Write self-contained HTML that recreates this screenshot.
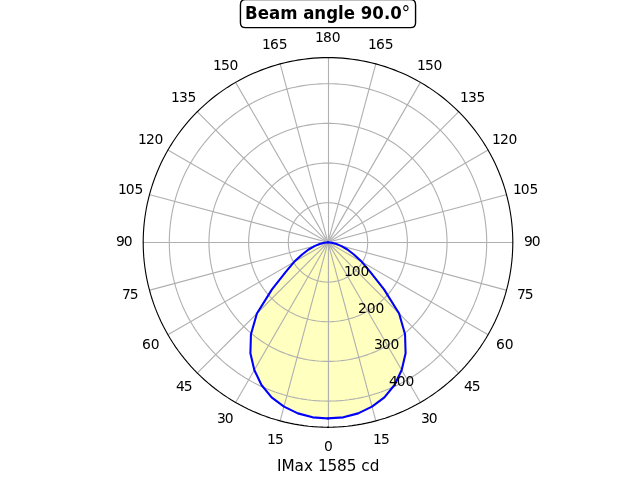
<!DOCTYPE html>
<html lang="en"><head><meta charset="utf-8"><title>Beam angle 90.0°</title>
<style>html,body{margin:0;padding:0;background:#fff;overflow:hidden}svg{display:block}text{font-family:'DejaVu Sans','Liberation Sans',sans-serif;fill:#000}.t{font-size:13.889px;text-anchor:middle}.r{font-size:13.889px;text-anchor:start}</style></head><body>
<svg width="640" height="480" viewBox="0 0 640 480">
<rect width="640" height="480" fill="#fff"/>
<path d="M328.00 418.40 L343.30 417.34 L358.15 413.38 L372.01 406.65 L384.40 397.35 L394.50 385.01 L401.70 370.05 L405.60 353.23 L405.04 334.22 L399.09 313.49 L384.01 289.40 L370.41 272.10 L362.05 262.06 L353.89 254.47 L347.42 249.47 L341.03 245.89 L335.81 243.78 L331.56 242.71 L328.00 242.40 Z" fill="#ffff00" fill-opacity="0.25" stroke="#ffff00" stroke-opacity="0.25" stroke-width="1.389" stroke-linejoin="miter"/>
<path d="M328.00 418.40 L312.70 417.34 L297.85 413.38 L283.99 406.65 L271.60 397.35 L261.50 385.01 L254.30 370.05 L250.40 353.23 L250.96 334.22 L256.91 313.49 L271.99 289.40 L285.59 272.10 L293.95 262.06 L302.11 254.47 L308.58 249.47 L314.97 245.89 L320.19 243.78 L324.44 242.71 L328.00 242.40 Z" fill="#ffff00" fill-opacity="0.25" stroke="#ffff00" stroke-opacity="0.25" stroke-width="1.389" stroke-linejoin="miter"/>
<g stroke="#b0b0b0" stroke-width="1.111" fill="none" stroke-linecap="square">
<line x1="328.50" y1="242.40" x2="328.50" y2="427.20"/>
<line x1="328.00" y1="242.40" x2="375.83" y2="420.90"/>
<line x1="328.00" y1="242.40" x2="420.40" y2="402.44"/>
<line x1="328.00" y1="242.40" x2="458.67" y2="373.07"/>
<line x1="328.00" y1="242.40" x2="488.04" y2="334.80"/>
<line x1="328.00" y1="242.40" x2="506.50" y2="290.23"/>
<line x1="328.00" y1="242.50" x2="512.80" y2="242.50"/>
<line x1="328.00" y1="242.40" x2="506.50" y2="194.57"/>
<line x1="328.00" y1="242.40" x2="488.04" y2="150.00"/>
<line x1="328.00" y1="242.40" x2="458.67" y2="111.73"/>
<line x1="328.00" y1="242.40" x2="420.40" y2="82.36"/>
<line x1="328.00" y1="242.40" x2="375.83" y2="63.90"/>
<line x1="328.50" y1="242.40" x2="328.50" y2="57.60"/>
<line x1="328.00" y1="242.40" x2="280.17" y2="63.90"/>
<line x1="328.00" y1="242.40" x2="235.60" y2="82.36"/>
<line x1="328.00" y1="242.40" x2="197.33" y2="111.73"/>
<line x1="328.00" y1="242.40" x2="167.96" y2="150.00"/>
<line x1="328.00" y1="242.40" x2="149.50" y2="194.57"/>
<line x1="328.00" y1="242.50" x2="143.20" y2="242.50"/>
<line x1="328.00" y1="242.40" x2="149.50" y2="290.23"/>
<line x1="328.00" y1="242.40" x2="167.96" y2="334.80"/>
<line x1="328.00" y1="242.40" x2="197.33" y2="373.07"/>
<line x1="328.00" y1="242.40" x2="235.60" y2="402.44"/>
<line x1="328.00" y1="242.40" x2="280.17" y2="420.90"/>
<path d="M328.00 282.08 L329.04 282.06 L330.08 282.02 L331.11 281.95 L332.15 281.86 L333.18 281.74 L334.21 281.59 L335.23 281.41 L336.25 281.21 L337.26 280.98 L338.27 280.72 L339.27 280.44 L340.26 280.13 L341.24 279.80 L342.22 279.44 L343.18 279.06 L344.14 278.65 L345.08 278.21 L346.01 277.75 L346.93 277.27 L347.84 276.76 L348.73 276.23 L349.61 275.67 L350.47 275.10 L351.32 274.50 L352.15 273.88 L352.97 273.23 L353.77 272.57 L354.55 271.88 L355.31 271.18 L356.05 270.45 L356.78 269.71 L357.48 268.95 L358.17 268.17 L358.83 267.37 L359.48 266.55 L360.10 265.72 L360.70 264.87 L361.27 264.01 L361.83 263.13 L362.36 262.24 L362.87 261.33 L363.35 260.41 L363.81 259.48 L364.25 258.54 L364.66 257.58 L365.04 256.62 L365.40 255.64 L365.73 254.66 L366.04 253.67 L366.32 252.67 L366.58 251.66 L366.81 250.65 L367.01 249.63 L367.19 248.61 L367.34 247.58 L367.46 246.55 L367.55 245.51 L367.62 244.48 L367.66 243.44 L367.68 242.40 L367.66 241.36 L367.62 240.32 L367.55 239.29 L367.46 238.25 L367.34 237.22 L367.19 236.19 L367.01 235.17 L366.81 234.15 L366.58 233.14 L366.32 232.13 L366.04 231.13 L365.73 230.14 L365.40 229.16 L365.04 228.18 L364.66 227.22 L364.25 226.26 L363.81 225.32 L363.35 224.39 L362.87 223.47 L362.36 222.56 L361.83 221.67 L361.27 220.79 L360.70 219.93 L360.10 219.08 L359.48 218.25 L358.83 217.43 L358.17 216.63 L357.48 215.85 L356.78 215.09 L356.05 214.35 L355.31 213.62 L354.55 212.92 L353.77 212.23 L352.97 211.57 L352.15 210.92 L351.32 210.30 L350.47 209.70 L349.61 209.13 L348.73 208.57 L347.84 208.04 L346.93 207.53 L346.01 207.05 L345.08 206.59 L344.14 206.15 L343.18 205.74 L342.22 205.36 L341.24 205.00 L340.26 204.67 L339.27 204.36 L338.27 204.08 L337.26 203.82 L336.25 203.59 L335.23 203.39 L334.21 203.21 L333.18 203.06 L332.15 202.94 L331.11 202.85 L330.08 202.78 L329.04 202.74 L328.00 202.72 L326.96 202.74 L325.92 202.78 L324.89 202.85 L323.85 202.94 L322.82 203.06 L321.79 203.21 L320.77 203.39 L319.75 203.59 L318.74 203.82 L317.73 204.08 L316.73 204.36 L315.74 204.67 L314.76 205.00 L313.78 205.36 L312.82 205.74 L311.86 206.15 L310.92 206.59 L309.99 207.05 L309.07 207.53 L308.16 208.04 L307.27 208.57 L306.39 209.13 L305.53 209.70 L304.68 210.30 L303.85 210.92 L303.03 211.57 L302.23 212.23 L301.45 212.92 L300.69 213.62 L299.95 214.35 L299.22 215.09 L298.52 215.85 L297.83 216.63 L297.17 217.43 L296.52 218.25 L295.90 219.08 L295.30 219.93 L294.73 220.79 L294.17 221.67 L293.64 222.56 L293.13 223.47 L292.65 224.39 L292.19 225.32 L291.75 226.26 L291.34 227.22 L290.96 228.18 L290.60 229.16 L290.27 230.14 L289.96 231.13 L289.68 232.13 L289.42 233.14 L289.19 234.15 L288.99 235.17 L288.81 236.19 L288.66 237.22 L288.54 238.25 L288.45 239.29 L288.38 240.32 L288.34 241.36 L288.32 242.40 L288.34 243.44 L288.38 244.48 L288.45 245.51 L288.54 246.55 L288.66 247.58 L288.81 248.61 L288.99 249.63 L289.19 250.65 L289.42 251.66 L289.68 252.67 L289.96 253.67 L290.27 254.66 L290.60 255.64 L290.96 256.62 L291.34 257.58 L291.75 258.54 L292.19 259.48 L292.65 260.41 L293.13 261.33 L293.64 262.24 L294.17 263.13 L294.73 264.01 L295.30 264.87 L295.90 265.72 L296.52 266.55 L297.17 267.37 L297.83 268.17 L298.52 268.95 L299.22 269.71 L299.95 270.45 L300.69 271.18 L301.45 271.88 L302.23 272.57 L303.03 273.23 L303.85 273.88 L304.68 274.50 L305.53 275.10 L306.39 275.67 L307.27 276.23 L308.16 276.76 L309.07 277.27 L309.99 277.75 L310.92 278.21 L311.86 278.65 L312.82 279.06 L313.78 279.44 L314.76 279.80 L315.74 280.13 L316.73 280.44 L317.73 280.72 L318.74 280.98 L319.75 281.21 L320.77 281.41 L321.79 281.59 L322.82 281.74 L323.85 281.86 L324.89 281.95 L325.92 282.02 L326.96 282.06 Z" stroke-linejoin="round"/>
<path d="M328.00 321.75 L330.08 321.72 L332.15 321.64 L334.23 321.51 L336.29 321.32 L338.36 321.07 L340.41 320.77 L342.46 320.42 L344.50 320.02 L346.52 319.56 L348.54 319.05 L350.54 318.48 L352.52 317.87 L354.49 317.20 L356.44 316.48 L358.37 315.71 L360.27 314.89 L362.16 314.02 L364.02 313.10 L365.86 312.13 L367.68 311.12 L369.46 310.06 L371.22 308.95 L372.94 307.80 L374.64 306.60 L376.31 305.35 L377.94 304.07 L379.53 302.74 L381.10 301.37 L382.62 299.96 L384.11 298.51 L385.56 297.02 L386.97 295.50 L388.34 293.93 L389.67 292.34 L390.95 290.71 L392.20 289.04 L393.40 287.34 L394.55 285.62 L395.66 283.86 L396.72 282.08 L397.73 280.26 L398.70 278.42 L399.62 276.56 L400.49 274.67 L401.31 272.77 L402.08 270.84 L402.80 268.89 L403.47 266.92 L404.08 264.94 L404.65 262.94 L405.16 260.92 L405.62 258.90 L406.02 256.86 L406.37 254.81 L406.67 252.76 L406.92 250.69 L407.11 248.63 L407.24 246.55 L407.32 244.48 L407.35 242.40 L407.32 240.32 L407.24 238.25 L407.11 236.17 L406.92 234.11 L406.67 232.04 L406.37 229.99 L406.02 227.94 L405.62 225.90 L405.16 223.88 L404.65 221.86 L404.08 219.86 L403.47 217.88 L402.80 215.91 L402.08 213.96 L401.31 212.03 L400.49 210.13 L399.62 208.24 L398.70 206.38 L397.73 204.54 L396.72 202.72 L395.66 200.94 L394.55 199.18 L393.40 197.46 L392.20 195.76 L390.95 194.09 L389.67 192.46 L388.34 190.87 L386.97 189.30 L385.56 187.78 L384.11 186.29 L382.62 184.84 L381.10 183.43 L379.53 182.06 L377.94 180.73 L376.31 179.45 L374.64 178.20 L372.94 177.00 L371.22 175.85 L369.46 174.74 L367.68 173.68 L365.86 172.67 L364.02 171.70 L362.16 170.78 L360.27 169.91 L358.37 169.09 L356.44 168.32 L354.49 167.60 L352.52 166.93 L350.54 166.32 L348.54 165.75 L346.52 165.24 L344.50 164.78 L342.46 164.38 L340.41 164.03 L338.36 163.73 L336.29 163.48 L334.23 163.29 L332.15 163.16 L330.08 163.08 L328.00 163.05 L325.92 163.08 L323.85 163.16 L321.77 163.29 L319.71 163.48 L317.64 163.73 L315.59 164.03 L313.54 164.38 L311.50 164.78 L309.48 165.24 L307.46 165.75 L305.46 166.32 L303.48 166.93 L301.51 167.60 L299.56 168.32 L297.63 169.09 L295.73 169.91 L293.84 170.78 L291.98 171.70 L290.14 172.67 L288.32 173.68 L286.54 174.74 L284.78 175.85 L283.06 177.00 L281.36 178.20 L279.69 179.45 L278.06 180.73 L276.47 182.06 L274.90 183.43 L273.38 184.84 L271.89 186.29 L270.44 187.78 L269.03 189.30 L267.66 190.87 L266.33 192.46 L265.05 194.09 L263.80 195.76 L262.60 197.46 L261.45 199.18 L260.34 200.94 L259.28 202.72 L258.27 204.54 L257.30 206.38 L256.38 208.24 L255.51 210.13 L254.69 212.03 L253.92 213.96 L253.20 215.91 L252.53 217.88 L251.92 219.86 L251.35 221.86 L250.84 223.88 L250.38 225.90 L249.98 227.94 L249.63 229.99 L249.33 232.04 L249.08 234.11 L248.89 236.17 L248.76 238.25 L248.68 240.32 L248.65 242.40 L248.68 244.48 L248.76 246.55 L248.89 248.63 L249.08 250.69 L249.33 252.76 L249.63 254.81 L249.98 256.86 L250.38 258.90 L250.84 260.92 L251.35 262.94 L251.92 264.94 L252.53 266.92 L253.20 268.89 L253.92 270.84 L254.69 272.77 L255.51 274.67 L256.38 276.56 L257.30 278.42 L258.27 280.26 L259.28 282.08 L260.34 283.86 L261.45 285.62 L262.60 287.34 L263.80 289.04 L265.05 290.71 L266.33 292.34 L267.66 293.93 L269.03 295.50 L270.44 297.02 L271.89 298.51 L273.38 299.96 L274.90 301.37 L276.47 302.74 L278.06 304.07 L279.69 305.35 L281.36 306.60 L283.06 307.80 L284.78 308.95 L286.54 310.06 L288.32 311.12 L290.14 312.13 L291.98 313.10 L293.84 314.02 L295.73 314.89 L297.63 315.71 L299.56 316.48 L301.51 317.20 L303.48 317.87 L305.46 318.48 L307.46 319.05 L309.48 319.56 L311.50 320.02 L313.54 320.42 L315.59 320.77 L317.64 321.07 L319.71 321.32 L321.77 321.51 L323.85 321.64 L325.92 321.72 Z" stroke-linejoin="round"/>
<path d="M328.00 361.43 L331.12 361.39 L334.23 361.26 L337.34 361.06 L340.44 360.77 L343.54 360.41 L346.62 359.96 L349.69 359.43 L352.75 358.83 L355.79 358.14 L358.81 357.37 L361.81 356.52 L364.78 355.60 L367.73 354.60 L370.66 353.52 L373.55 352.37 L376.41 351.14 L379.24 349.83 L382.04 348.45 L384.79 347.00 L387.51 345.48 L390.19 343.89 L392.83 342.22 L395.42 340.49 L397.96 338.69 L400.46 336.83 L402.91 334.90 L405.30 332.91 L407.64 330.85 L409.93 328.74 L412.16 326.56 L414.34 324.33 L416.45 322.04 L418.51 319.70 L420.50 317.31 L422.43 314.86 L424.29 312.36 L426.09 309.82 L427.82 307.23 L429.49 304.59 L431.08 301.91 L432.60 299.19 L434.05 296.44 L435.43 293.64 L436.74 290.81 L437.97 287.95 L439.12 285.06 L440.20 282.13 L441.20 279.18 L442.12 276.21 L442.97 273.21 L443.74 270.19 L444.43 267.15 L445.03 264.09 L445.56 261.02 L446.01 257.94 L446.37 254.84 L446.66 251.74 L446.86 248.63 L446.99 245.52 L447.03 242.40 L446.99 239.28 L446.86 236.17 L446.66 233.06 L446.37 229.96 L446.01 226.86 L445.56 223.78 L445.03 220.71 L444.43 217.65 L443.74 214.61 L442.97 211.59 L442.12 208.59 L441.20 205.62 L440.20 202.67 L439.12 199.74 L437.97 196.85 L436.74 193.99 L435.43 191.16 L434.05 188.36 L432.60 185.61 L431.08 182.89 L429.49 180.21 L427.82 177.57 L426.09 174.98 L424.29 172.44 L422.43 169.94 L420.50 167.49 L418.51 165.10 L416.45 162.76 L414.34 160.47 L412.16 158.24 L409.93 156.06 L407.64 153.95 L405.30 151.89 L402.91 149.90 L400.46 147.97 L397.96 146.11 L395.42 144.31 L392.83 142.58 L390.19 140.91 L387.51 139.32 L384.79 137.80 L382.04 136.35 L379.24 134.97 L376.41 133.66 L373.55 132.43 L370.66 131.28 L367.73 130.20 L364.78 129.20 L361.81 128.28 L358.81 127.43 L355.79 126.66 L352.75 125.97 L349.69 125.37 L346.62 124.84 L343.54 124.39 L340.44 124.03 L337.34 123.74 L334.23 123.54 L331.12 123.41 L328.00 123.37 L324.88 123.41 L321.77 123.54 L318.66 123.74 L315.56 124.03 L312.46 124.39 L309.38 124.84 L306.31 125.37 L303.25 125.97 L300.21 126.66 L297.19 127.43 L294.19 128.28 L291.22 129.20 L288.27 130.20 L285.34 131.28 L282.45 132.43 L279.59 133.66 L276.76 134.97 L273.96 136.35 L271.21 137.80 L268.49 139.32 L265.81 140.91 L263.17 142.58 L260.58 144.31 L258.04 146.11 L255.54 147.97 L253.09 149.90 L250.70 151.89 L248.36 153.95 L246.07 156.06 L243.84 158.24 L241.66 160.47 L239.55 162.76 L237.49 165.10 L235.50 167.49 L233.57 169.94 L231.71 172.44 L229.91 174.98 L228.18 177.57 L226.51 180.21 L224.92 182.89 L223.40 185.61 L221.95 188.36 L220.57 191.16 L219.26 193.99 L218.03 196.85 L216.88 199.74 L215.80 202.67 L214.80 205.62 L213.88 208.59 L213.03 211.59 L212.26 214.61 L211.57 217.65 L210.97 220.71 L210.44 223.78 L209.99 226.86 L209.63 229.96 L209.34 233.06 L209.14 236.17 L209.01 239.28 L208.97 242.40 L209.01 245.52 L209.14 248.63 L209.34 251.74 L209.63 254.84 L209.99 257.94 L210.44 261.02 L210.97 264.09 L211.57 267.15 L212.26 270.19 L213.03 273.21 L213.88 276.21 L214.80 279.18 L215.80 282.13 L216.88 285.06 L218.03 287.95 L219.26 290.81 L220.57 293.64 L221.95 296.44 L223.40 299.19 L224.92 301.91 L226.51 304.59 L228.18 307.23 L229.91 309.82 L231.71 312.36 L233.57 314.86 L235.50 317.31 L237.49 319.70 L239.55 322.04 L241.66 324.33 L243.84 326.56 L246.07 328.74 L248.36 330.85 L250.70 332.91 L253.09 334.90 L255.54 336.83 L258.04 338.69 L260.58 340.49 L263.17 342.22 L265.81 343.89 L268.49 345.48 L271.21 347.00 L273.96 348.45 L276.76 349.83 L279.59 351.14 L282.45 352.37 L285.34 353.52 L288.27 354.60 L291.22 355.60 L294.19 356.52 L297.19 357.37 L300.21 358.14 L303.25 358.83 L306.31 359.43 L309.38 359.96 L312.46 360.41 L315.56 360.77 L318.66 361.06 L321.77 361.26 L324.88 361.39 Z" stroke-linejoin="round"/>
<path d="M328.00 401.10 L332.15 401.05 L336.31 400.88 L340.45 400.61 L344.59 400.23 L348.71 399.74 L352.83 399.15 L356.92 398.44 L361.00 397.63 L365.05 396.72 L369.07 395.69 L373.07 394.57 L377.04 393.33 L380.98 392.00 L384.87 390.56 L388.73 389.02 L392.55 387.38 L396.32 385.64 L400.05 383.80 L403.73 381.87 L407.35 379.84 L410.92 377.72 L414.44 375.50 L417.89 373.19 L421.28 370.79 L424.61 368.31 L427.87 365.73 L431.07 363.08 L434.19 360.34 L437.24 357.52 L440.22 354.62 L443.12 351.64 L445.94 348.59 L448.68 345.47 L451.33 342.27 L453.91 339.01 L456.39 335.68 L458.79 332.29 L461.10 328.84 L463.32 325.32 L465.44 321.75 L467.47 318.13 L469.40 314.45 L471.24 310.72 L472.98 306.95 L474.62 303.13 L476.16 299.27 L477.60 295.38 L478.93 291.44 L480.17 287.47 L481.29 283.47 L482.32 279.45 L483.23 275.40 L484.04 271.32 L484.75 267.23 L485.34 263.11 L485.83 258.99 L486.21 254.85 L486.48 250.71 L486.65 246.55 L486.70 242.40 L486.65 238.25 L486.48 234.09 L486.21 229.95 L485.83 225.81 L485.34 221.69 L484.75 217.57 L484.04 213.48 L483.23 209.40 L482.32 205.35 L481.29 201.33 L480.17 197.33 L478.93 193.36 L477.60 189.42 L476.16 185.53 L474.62 181.67 L472.98 177.85 L471.24 174.08 L469.40 170.35 L467.47 166.67 L465.44 163.05 L463.32 159.48 L461.10 155.96 L458.79 152.51 L456.39 149.12 L453.91 145.79 L451.33 142.53 L448.68 139.33 L445.94 136.21 L443.12 133.16 L440.22 130.18 L437.24 127.28 L434.19 124.46 L431.07 121.72 L427.87 119.07 L424.61 116.49 L421.28 114.01 L417.89 111.61 L414.44 109.30 L410.92 107.08 L407.35 104.96 L403.73 102.93 L400.05 101.00 L396.32 99.16 L392.55 97.42 L388.73 95.78 L384.87 94.24 L380.98 92.80 L377.04 91.47 L373.07 90.23 L369.07 89.11 L365.05 88.08 L361.00 87.17 L356.92 86.36 L352.83 85.65 L348.71 85.06 L344.59 84.57 L340.45 84.19 L336.31 83.92 L332.15 83.75 L328.00 83.70 L323.85 83.75 L319.69 83.92 L315.55 84.19 L311.41 84.57 L307.29 85.06 L303.17 85.65 L299.08 86.36 L295.00 87.17 L290.95 88.08 L286.93 89.11 L282.93 90.23 L278.96 91.47 L275.02 92.80 L271.13 94.24 L267.27 95.78 L263.45 97.42 L259.68 99.16 L255.95 101.00 L252.27 102.93 L248.65 104.96 L245.08 107.08 L241.56 109.30 L238.11 111.61 L234.72 114.01 L231.39 116.49 L228.13 119.07 L224.93 121.72 L221.81 124.46 L218.76 127.28 L215.78 130.18 L212.88 133.16 L210.06 136.21 L207.32 139.33 L204.67 142.53 L202.09 145.79 L199.61 149.12 L197.21 152.51 L194.90 155.96 L192.68 159.48 L190.56 163.05 L188.53 166.67 L186.60 170.35 L184.76 174.08 L183.02 177.85 L181.38 181.67 L179.84 185.53 L178.40 189.42 L177.07 193.36 L175.83 197.33 L174.71 201.33 L173.68 205.35 L172.77 209.40 L171.96 213.48 L171.25 217.57 L170.66 221.69 L170.17 225.81 L169.79 229.95 L169.52 234.09 L169.35 238.25 L169.30 242.40 L169.35 246.55 L169.52 250.71 L169.79 254.85 L170.17 258.99 L170.66 263.11 L171.25 267.23 L171.96 271.32 L172.77 275.40 L173.68 279.45 L174.71 283.47 L175.83 287.47 L177.07 291.44 L178.40 295.38 L179.84 299.27 L181.38 303.13 L183.02 306.95 L184.76 310.72 L186.60 314.45 L188.53 318.13 L190.56 321.75 L192.68 325.32 L194.90 328.84 L197.21 332.29 L199.61 335.68 L202.09 339.01 L204.67 342.27 L207.32 345.47 L210.06 348.59 L212.88 351.64 L215.78 354.62 L218.76 357.52 L221.81 360.34 L224.93 363.08 L228.13 365.73 L231.39 368.31 L234.72 370.79 L238.11 373.19 L241.56 375.50 L245.08 377.72 L248.65 379.84 L252.27 381.87 L255.95 383.80 L259.68 385.64 L263.45 387.38 L267.27 389.02 L271.13 390.56 L275.02 392.00 L278.96 393.33 L282.93 394.57 L286.93 395.69 L290.95 396.72 L295.00 397.63 L299.08 398.44 L303.17 399.15 L307.29 399.74 L311.41 400.23 L315.55 400.61 L319.69 400.88 L323.85 401.05 Z" stroke-linejoin="round"/>
</g>
<path d="M328.00 418.40 L343.30 417.34 L358.15 413.38 L372.01 406.65 L384.40 397.35 L394.50 385.01 L401.70 370.05 L405.60 353.23 L405.04 334.22 L399.09 313.49 L384.01 289.40 L370.41 272.10 L362.05 262.06 L353.89 254.47 L347.42 249.47 L341.03 245.89 L335.81 243.78 L331.56 242.71 L328.00 242.40" fill="none" stroke="#0000ff" stroke-width="2.083" stroke-linejoin="round" stroke-linecap="square"/>
<path d="M328.00 418.40 L312.70 417.34 L297.85 413.38 L283.99 406.65 L271.60 397.35 L261.50 385.01 L254.30 370.05 L250.40 353.23 L250.96 334.22 L256.91 313.49 L271.99 289.40 L285.59 272.10 L293.95 262.06 L302.11 254.47 L308.58 249.47 L314.97 245.89 L320.19 243.78 L324.44 242.71 L328.00 242.40" fill="none" stroke="#0000ff" stroke-width="2.083" stroke-linejoin="round" stroke-linecap="square"/>
<path d="M328.00 427.20 L332.84 427.14 L337.67 426.95 L342.50 426.63 L347.32 426.19 L352.12 425.62 L356.91 424.92 L361.68 424.11 L366.42 423.16 L371.14 422.09 L375.83 420.90 L380.49 419.59 L385.11 418.16 L389.69 416.60 L394.23 414.93 L398.72 413.13 L403.16 411.22 L407.56 409.20 L411.90 407.06 L416.18 404.81 L420.40 402.44 L424.56 399.97 L428.65 397.39 L432.67 394.70 L436.62 391.91 L440.50 389.01 L444.30 386.02 L448.02 382.92 L451.66 379.73 L455.21 376.45 L458.67 373.07 L462.05 369.61 L465.33 366.06 L468.52 362.42 L471.62 358.70 L474.61 354.90 L477.51 351.02 L480.30 347.07 L482.99 343.05 L485.57 338.96 L488.04 334.80 L490.41 330.58 L492.66 326.30 L494.80 321.96 L496.82 317.56 L498.73 313.12 L500.53 308.63 L502.20 304.09 L503.76 299.51 L505.19 294.89 L506.50 290.23 L507.69 285.54 L508.76 280.82 L509.71 276.08 L510.52 271.31 L511.22 266.52 L511.79 261.72 L512.23 256.90 L512.55 252.07 L512.74 247.24 L512.80 242.40 L512.74 237.56 L512.55 232.73 L512.23 227.90 L511.79 223.08 L511.22 218.28 L510.52 213.49 L509.71 208.72 L508.76 203.98 L507.69 199.26 L506.50 194.57 L505.19 189.91 L503.76 185.29 L502.20 180.71 L500.53 176.17 L498.73 171.68 L496.82 167.24 L494.80 162.84 L492.66 158.50 L490.41 154.22 L488.04 150.00 L485.57 145.84 L482.99 141.75 L480.30 137.73 L477.51 133.78 L474.61 129.90 L471.62 126.10 L468.52 122.38 L465.33 118.74 L462.05 115.19 L458.67 111.73 L455.21 108.35 L451.66 105.07 L448.02 101.88 L444.30 98.78 L440.50 95.79 L436.62 92.89 L432.67 90.10 L428.65 87.41 L424.56 84.83 L420.40 82.36 L416.18 79.99 L411.90 77.74 L407.56 75.60 L403.16 73.58 L398.72 71.67 L394.23 69.87 L389.69 68.20 L385.11 66.64 L380.49 65.21 L375.83 63.90 L371.14 62.71 L366.42 61.64 L361.68 60.69 L356.91 59.88 L352.12 59.18 L347.32 58.61 L342.50 58.17 L337.67 57.85 L332.84 57.66 L328.00 57.60 L323.16 57.66 L318.33 57.85 L313.50 58.17 L308.68 58.61 L303.88 59.18 L299.09 59.88 L294.32 60.69 L289.58 61.64 L284.86 62.71 L280.17 63.90 L275.51 65.21 L270.89 66.64 L266.31 68.20 L261.77 69.87 L257.28 71.67 L252.84 73.58 L248.44 75.60 L244.10 77.74 L239.82 79.99 L235.60 82.36 L231.44 84.83 L227.35 87.41 L223.33 90.10 L219.38 92.89 L215.50 95.79 L211.70 98.78 L207.98 101.88 L204.34 105.07 L200.79 108.35 L197.33 111.73 L193.95 115.19 L190.67 118.74 L187.48 122.38 L184.38 126.10 L181.39 129.90 L178.49 133.78 L175.70 137.73 L173.01 141.75 L170.43 145.84 L167.96 150.00 L165.59 154.22 L163.34 158.50 L161.20 162.84 L159.18 167.24 L157.27 171.68 L155.47 176.17 L153.80 180.71 L152.24 185.29 L150.81 189.91 L149.50 194.57 L148.31 199.26 L147.24 203.98 L146.29 208.72 L145.48 213.49 L144.78 218.28 L144.21 223.08 L143.77 227.90 L143.45 232.73 L143.26 237.56 L143.20 242.40 L143.26 247.24 L143.45 252.07 L143.77 256.90 L144.21 261.72 L144.78 266.52 L145.48 271.31 L146.29 276.08 L147.24 280.82 L148.31 285.54 L149.50 290.23 L150.81 294.89 L152.24 299.51 L153.80 304.09 L155.47 308.63 L157.27 313.12 L159.18 317.56 L161.20 321.96 L163.34 326.30 L165.59 330.58 L167.96 334.80 L170.43 338.96 L173.01 343.05 L175.70 347.07 L178.49 351.02 L181.39 354.90 L184.38 358.70 L187.48 362.42 L190.67 366.06 L193.95 369.61 L197.33 373.07 L200.79 376.45 L204.34 379.73 L207.98 382.92 L211.70 386.02 L215.50 389.01 L219.38 391.91 L223.33 394.70 L227.35 397.39 L231.44 399.97 L235.60 402.44 L239.82 404.81 L244.10 407.06 L248.44 409.20 L252.84 411.22 L257.28 413.13 L261.77 414.93 L266.31 416.60 L270.89 418.16 L275.51 419.59 L280.17 420.90 L284.86 422.09 L289.58 423.16 L294.32 424.11 L299.09 424.92 L303.88 425.62 L308.68 426.19 L313.50 426.63 L318.33 426.95 L323.16 427.14 Z" stroke-linejoin="round" fill="none" stroke="#000" stroke-width="1.111"/>
<rect x="327" y="426.7" width="2" height="1.3" fill="#000"/>
<text class="r" x="323.97" y="451">0</text>
<text class="r" x="372.94 380.97" y="444">15</text>
<text class="r" x="420.93 428.66" y="423">30</text>
<text class="r" x="463.95 471.68" y="391">45</text>
<text class="r" x="495.91 504.65" y="349">60</text>
<text class="r" x="516.91 524.64" y="299">75</text>
<text class="r" x="523.95 531.68" y="246">90</text>
<text class="r" x="512.94 520.68 529.41" y="194">105</text>
<text class="r" x="491.95 499.88 508.42" y="144">120</text>
<text class="r" x="459.88 467.91 476.45" y="102">135</text>
<text class="r" x="416.96 424.89 433.43" y="70">150</text>
<text class="r" x="367.94 375.97 384.71" y="49">165</text>
<text class="r" x="314.92 322.95 331.69" y="42">180</text>
<text class="r" x="261.90 269.94 278.68" y="49">165</text>
<text class="r" x="212.89 220.93 229.47" y="70">150</text>
<text class="r" x="170.93 178.97 187.41" y="102">135</text>
<text class="r" x="137.94 145.88 154.42" y="144">120</text>
<text class="r" x="117.91 125.65 134.38" y="194">105</text>
<text class="r" x="115.89 123.63" y="246">90</text>
<text class="r" x="121.97 129.71" y="299">75</text>
<text class="r" x="141.91 150.65" y="349">60</text>
<text class="r" x="175.92 183.66" y="391">45</text>
<text class="r" x="216.92 224.66" y="423">30</text>
<text class="r" x="266.92 274.96" y="444">15</text>
<text class="r" x="344.03 351.77 360.51" y="276">100</text>
<text class="r" x="358.05 366.78 375.52" y="313">200</text>
<text class="r" x="374.04 381.78 390.51" y="349">300</text>
<text class="r" x="388.95 396.69 405.43" y="386">400</text>
<path d="M245.44 -0.34 L410.56 -0.34 Q415.56 -0.34 415.56 4.66 L415.56 22.66 Q415.56 27.66 410.56 27.66 L245.44 27.66 Q240.44 27.66 240.44 22.66 L240.44 4.66 Q240.44 -0.34 245.44 -0.34 Z" fill="#fff" stroke="#000" stroke-width="1.389" stroke-linejoin="miter"/>
<text transform="translate(245.00 18.60) scale(0.9966 1.10)" x="0.00 12.68 23.98 35.27 52.58 58.39 69.43 81.49 93.22 98.97 110.42 116.07 127.60 139.40 145.63" text-anchor="start" style="font-size:16.667px;font-weight:bold">Beam angle 90.0<tspan x="157.04" dy="1" style="font-weight:normal;font-size:17.5px">°</tspan></text>
<text x="277.02 281.52 294.49 304.03 313.07 317.92 327.44 336.95 346.67 356.77 361.23 369.82" y="471" text-anchor="start" style="font-size:15.278px">IMax 1585 cd</text>
</svg></body></html>
